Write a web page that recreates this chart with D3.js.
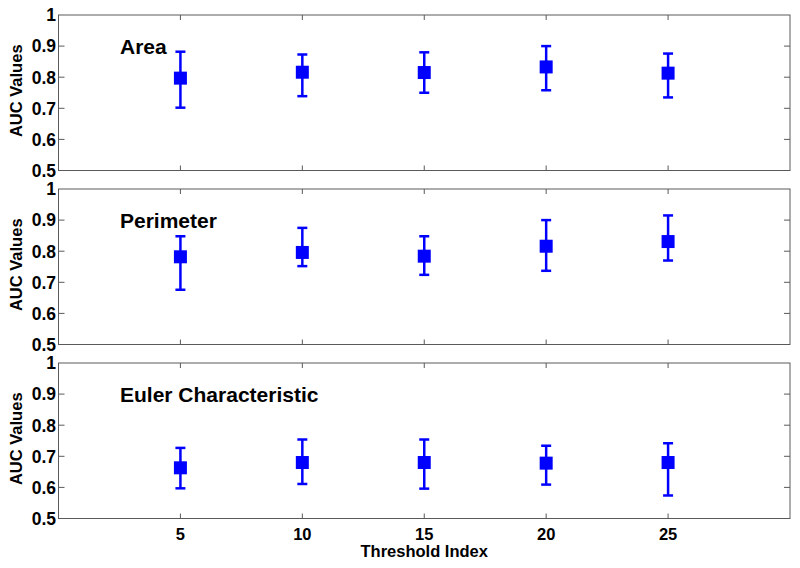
<!DOCTYPE html>
<html>
<head>
<meta charset="utf-8">
<script src="https://cdn.jsdelivr.net/npm/d3@7"></script>
<style>
  html, body { margin: 0; padding: 0; background: #fff; }
  svg text { font-family: "Liberation Sans", Arial, sans-serif; font-weight: bold; }
</style>
</head>
<body>
<svg id="chart" width="800" height="568"></svg>
<script>
// ---- Data ----
const thresholds = [5, 10, 15, 20, 25];
const xTicks = [5, 10, 15, 20, 25];
const yTicks = [0.5, 0.6, 0.7, 0.8, 0.9, 1];
const yTickLabels = ["0.5", "0.6", "0.7", "0.8", "0.9", "1"];
const panelTitles = ["Area", "Perimeter", "Euler Characteristic"];

const areaMean = [0.797, 0.816, 0.815, 0.833, 0.813];
const areaLow  = [0.702, 0.739, 0.750, 0.758, 0.735];
const areaHigh = [0.882, 0.873, 0.880, 0.900, 0.876];

const perimMean = [0.782, 0.796, 0.784, 0.816, 0.831];
const perimLow  = [0.676, 0.752, 0.724, 0.737, 0.770];
const perimHigh = [0.848, 0.875, 0.848, 0.900, 0.915];

const eulerMean = [0.663, 0.680, 0.680, 0.678, 0.680];
const eulerLow  = [0.597, 0.611, 0.596, 0.609, 0.574];
const eulerHigh = [0.727, 0.754, 0.754, 0.734, 0.742];

const panels = [
  { title: panelTitles[0], mean: areaMean, low: areaLow, high: areaHigh },
  { title: panelTitles[1], mean: perimMean, low: perimLow, high: perimHigh },
  { title: panelTitles[2], mean: eulerMean, low: eulerLow, high: eulerHigh }
];

// ---- Layout ----
const svg = d3.select("#chart");
const left = 58.5, right = 790;
const panelTops = [15, 189, 363];
const panelH = 155.5;
const blue = "#0000ff";
const axisColor = "#5a5a5a";

const x = d3.scaleLinear().domain([0, 30]).range([left, right]);

panels.forEach((p, i) => {
  const top = panelTops[i];
  const y = d3.scaleLinear().domain([0.5, 1]).range([top + panelH, top]);
  const g = svg.append("g");

  // box
  g.append("rect")
    .attr("x", left).attr("y", top)
    .attr("width", right - left).attr("height", panelH)
    .attr("fill", "none").attr("stroke", axisColor).attr("stroke-width", 1);

  // x ticks (inside, top and bottom)
  xTicks.forEach(t => {
    g.append("line").attr("x1", x(t)).attr("x2", x(t))
      .attr("y1", top + panelH).attr("y2", top + panelH - 5)
      .attr("stroke", axisColor);
    g.append("line").attr("x1", x(t)).attr("x2", x(t))
      .attr("y1", top).attr("y2", top + 5)
      .attr("stroke", axisColor);
  });

  // y ticks (inside, left and right) + labels
  yTicks.forEach((t, k) => {
    if (t > 0.5 && t < 1) {
      g.append("line").attr("x1", left).attr("x2", left + 6)
        .attr("y1", y(t)).attr("y2", y(t)).attr("stroke", axisColor);
      g.append("line").attr("x1", right).attr("x2", right - 6)
        .attr("y1", y(t)).attr("y2", y(t)).attr("stroke", axisColor);
    }
    g.append("text")
      .attr("x", left - 2.5).attr("y", y(t))
      .attr("dy", "0.36em")
      .attr("text-anchor", "end")
      .attr("font-size", 17.5)
      .attr("fill", "#000")
      .text(yTickLabels[k]);
  });

  // y axis label
  g.append("text")
    .attr("transform", `translate(22,${top + panelH / 2 - 2}) rotate(-90)`)
    .attr("text-anchor", "middle")
    .attr("font-size", 16.5)
    .attr("fill", "#000")
    .text("AUC Values");

  // panel title
  g.append("text")
    .attr("x", 120).attr("y", top + 39)
    .attr("font-size", 21)
    .attr("fill", "#000")
    .text(p.title);

  // error bars
  const capW = 5;
  thresholds.forEach((t, k) => {
    const cx = x(t);
    g.append("line").attr("x1", cx).attr("x2", cx)
      .attr("y1", y(p.low[k])).attr("y2", y(p.high[k]))
      .attr("stroke", blue).attr("stroke-width", 2.5);
    [p.low[k], p.high[k]].forEach(v => {
      g.append("line").attr("x1", cx - capW).attr("x2", cx + capW)
        .attr("y1", y(v)).attr("y2", y(v))
        .attr("stroke", blue).attr("stroke-width", 2.5);
    });
    g.append("rect")
      .attr("x", cx - 6.5).attr("y", y(p.mean[k]) - 6.5)
      .attr("width", 13).attr("height", 13)
      .attr("fill", blue);
  });

  // x tick labels on bottom panel
  if (i === panels.length - 1) {
    xTicks.forEach(t => {
      g.append("text")
        .attr("x", x(t)).attr("y", top + panelH + 21)
        .attr("text-anchor", "middle")
        .attr("font-size", 16.5)
        .attr("fill", "#000")
        .text(t);
    });
    g.append("text")
      .attr("x", (left + right) / 2).attr("y", 557)
      .attr("text-anchor", "middle")
      .attr("font-size", 16.5)
      .attr("fill", "#000")
      .text("Threshold Index");
  }
});
</script>
</body>
</html>
